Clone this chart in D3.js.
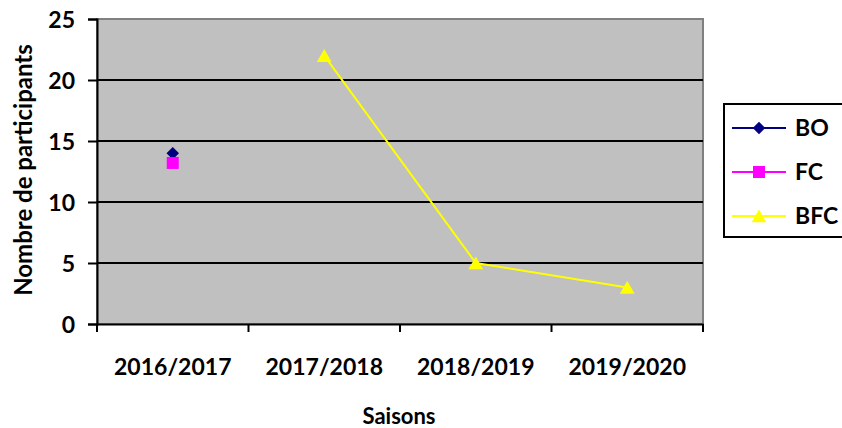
<!DOCTYPE html>
<html>
<head>
<meta charset="utf-8">
<script src="https://cdn.jsdelivr.net/npm/d3@7"></script>
<style>
  body { margin: 0; background: #fff; }
  svg text { font-family: Lato, "Open Sans", sans-serif; font-weight: bold; fill: #000; }
</style>
</head>
<body>
<svg id="chart" width="842" height="428"></svg>
<script>
var seasons = ["2016/2017", "2017/2018", "2018/2019", "2019/2020"];
var boValues = [14, null, null, null];
var fcValues = [13.2, null, null, null];
var bfcValues = [null, 22, 5, 3];
var yTicks = [0, 5, 10, 15, 20, 25];

// dy centres the marker's box on the point (d3 triangles sit on their centroid)
var series = [
    { name: "BO", values: boValues, color: "#000080", marker: d3.symbolSquare, size: 78, rotate: 45, dy: 0 },
    { name: "FC", values: fcValues, color: "#FF00FF", marker: d3.symbolSquare, size: 144, rotate: 0, dy: 0 },
    { name: "BFC", values: bfcValues, color: "#FFFF00", marker: d3.symbolTriangle, size: 95, rotate: 0, dy: 2 }
];

var svg = d3.select("#chart");
var plotLeft = 97, plotRight = 703, plotTop = 19, plotBottom = 324;

var x = d3.scaleBand().domain(seasons).range([plotLeft, plotRight]);
var y = d3.scaleLinear().domain([0, 25]).range([plotBottom, plotTop]);

// plot background
svg.append("rect")
   .attr("x", plotLeft).attr("y", plotTop)
   .attr("width", plotRight - plotLeft).attr("height", plotBottom - plotTop)
   .attr("fill", "#C0C0C0")
   .attr("stroke", "#808080")
   .attr("stroke-width", 2);

// gridlines
svg.append("g")
   .selectAll("line")
   .data(yTicks.filter(function(d) { return d > 0 && d < 25; }))
   .enter().append("line")
   .attr("x1", plotLeft).attr("x2", plotRight)
   .attr("y1", function(d) { return y(d); })
   .attr("y2", function(d) { return y(d); })
   .attr("stroke", "#000")
   .attr("stroke-width", 2);

// y axis
var yAxis = svg.append("g")
   .attr("transform", "translate(" + plotLeft + ",0)")
   .call(d3.axisLeft(y).tickValues(yTicks).tickSize(9).tickPadding(13));
yAxis.select(".domain").attr("stroke", "#000").attr("stroke-width", 2);
yAxis.selectAll(".tick line").attr("stroke", "#000").attr("stroke-width", 2);
yAxis.selectAll(".tick text").style("font-size", "23px").attr("dy", "0.38em");

// x axis
var xAxis = svg.append("g")
   .attr("transform", "translate(0," + plotBottom + ")")
   .call(d3.axisBottom(x).tickSize(0));
xAxis.select(".domain").attr("stroke", "#000").attr("stroke-width", 2);
xAxis.selectAll(".tick text").style("font-size", "23px").attr("y", 51).attr("dy", 0);
xAxis.selectAll(".boundary")
   .data(seasons.concat(["end"]))
   .enter().append("line")
   .attr("x1", function(d, i) { return plotLeft + i * x.bandwidth(); })
   .attr("x2", function(d, i) { return plotLeft + i * x.bandwidth(); })
   .attr("y1", 0).attr("y2", 8)
   .attr("stroke", "#000")
   .attr("stroke-width", 2);

// axis titles
svg.append("text")
   .attr("x", 399).attr("y", 424)
   .attr("text-anchor", "middle")
   .style("font-size", "22px")
   .text("Saisons");

svg.append("text")
   .attr("transform", "translate(32,170) rotate(-90)")
   .attr("text-anchor", "middle")
   .style("font-size", "24px")
   .text("Nombre de participants");

// series
var line = d3.line()
    .defined(function(d) { return d != null; })
    .x(function(d, i) { return x(seasons[i]) + x.bandwidth() / 2; })
    .y(function(d) { return y(d); });

series.forEach(function(s) {
    svg.append("path")
       .attr("d", line(s.values))
       .attr("fill", "none")
       .attr("stroke", s.color)
       .attr("stroke-width", 2);

    svg.append("g")
       .selectAll("path")
       .data(s.values.map(function(v, i) { return { v: v, i: i }; })
                     .filter(function(d) { return d.v != null; }))
       .enter().append("path")
       .attr("d", d3.symbol().type(s.marker).size(s.size))
       .attr("transform", function(d) {
           return "translate(" + (x(seasons[d.i]) + x.bandwidth() / 2) + "," + (y(d.v) + s.dy) + ") rotate(" + s.rotate + ")";
       })
       .attr("fill", s.color);
});

// legend
var legend = svg.append("g").attr("transform", "translate(724,104)");
legend.append("rect")
   .attr("width", 130).attr("height", 133)
   .attr("fill", "#fff")
   .attr("stroke", "#000")
   .attr("stroke-width", 2);

var item = legend.selectAll(".item")
   .data(series)
   .enter().append("g")
   .attr("transform", function(d, i) { return "translate(0," + (24 + i * 44) + ")"; });

item.append("line")
   .attr("x1", 8).attr("x2", 62)
   .attr("stroke", function(d) { return d.color; })
   .attr("stroke-width", 2);
item.append("path")
   .attr("d", function(d) { return d3.symbol().type(d.marker).size(d.size)(); })
   .attr("transform", function(d) { return "translate(35," + d.dy + ") rotate(" + d.rotate + ")"; })
   .attr("fill", function(d) { return d.color; });
item.append("text")
   .attr("x", 71).attr("dy", "0.36em")
   .style("font-size", "23px")
   .text(function(d) { return d.name; });
</script>
</body>
</html>
